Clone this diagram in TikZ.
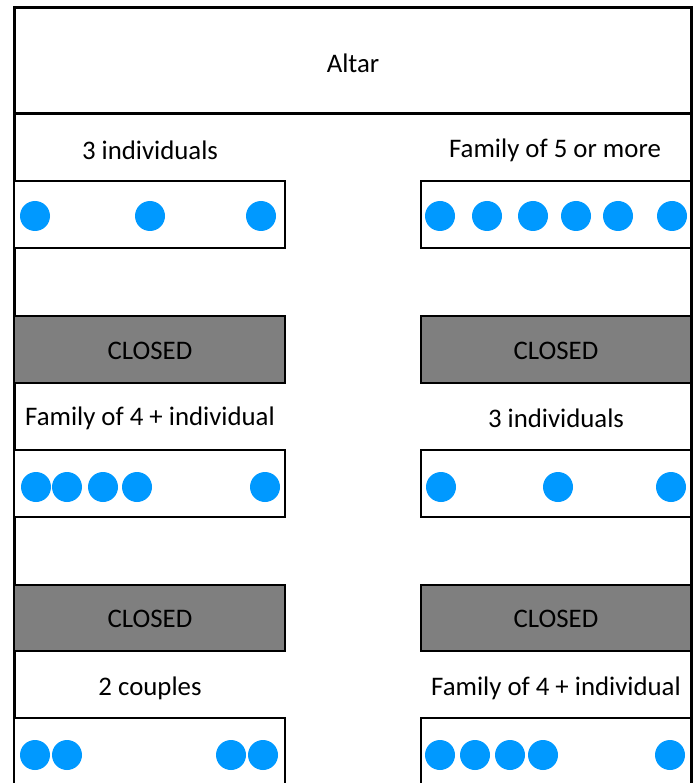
\documentclass[tikz,border=0pt]{standalone}
\usepackage{fontspec}
\setmainfont{Carlito}
\definecolor{dotblue}{HTML}{0099FF}
\definecolor{closedgray}{HTML}{7F7F7F}
\begin{document}
\begin{tikzpicture}[x=1pt,y=-1pt,
  pew/.style={draw=black,line width=2.5pt,fill=white},
  closedbox/.style={draw=black,line width=2.5pt,fill=closedgray},
  person/.style={circle,fill=dotblue,inner sep=0pt,minimum size=30pt},
  lbl/.style={font=\fontsize{26.8}{30}\selectfont,inner sep=0pt}]
\useasboundingbox (0,0) rectangle (696,783);
% frame
\draw[line width=3pt] (14,783) -- (14,8) -- (691,8) -- (691,783);
\draw[line width=3pt] (14,114) -- (691,114);
\node[lbl] (altar) at (353,63) {Altar};
% row 1
\node[lbl] (l1) at (150,150) {3 individuals};
\node[lbl] (r1) at (555,150) {Family of 5 or more};
\draw[pew] (14,181) rectangle (285,248);
\draw[pew] (421,181) rectangle (691,248);
\foreach \x/\n in {35/a,150/b,261/c} \node[person] (p1\n) at (\x,216) {};
\foreach \x/\n in {440/a,487/b,533/c,576/d,618/e,672/f} \node[person] (q1\n) at (\x,216) {};
% closed 1
\draw[closedbox] (14,316) rectangle (285,383);
\draw[closedbox] (421,316) rectangle (691,383);
\node[lbl] (c1l) at (150,351) {CLOSED};
\node[lbl] (c1r) at (556,351) {CLOSED};
% row 2
\node[lbl] (l2) at (150,418) {Family of 4 + individual};
\node[lbl] (r2) at (556,418) {3 individuals};
\draw[pew] (14,450) rectangle (285,517);
\draw[pew] (421,450) rectangle (691,517);
\foreach \x/\n in {36/a,67/b,103/c,137/d,265/e} \node[person] (p2\n) at (\x,487) {};
\foreach \x/\n in {441/a,558/b,671/c} \node[person] (q2\n) at (\x,487) {};
% closed 2
\draw[closedbox] (14,585) rectangle (285,651);
\draw[closedbox] (421,585) rectangle (691,651);
\node[lbl] (c2l) at (150,619) {CLOSED};
\node[lbl] (c2r) at (556,619) {CLOSED};
% row 3
\node[lbl] (l3) at (150,688) {2 couples};
\node[lbl] (r3) at (556,688) {Family of 4 + individual};
\draw[pew] (14,790) -- (14,718) -- (285,718) -- (285,790);
\draw[pew] (421,790) -- (421,718) -- (691,718) -- (691,790);
\foreach \x/\n in {35/a,67/b,231/c,263/d} \node[person] (p3\n) at (\x,755) {};
\foreach \x/\n in {440/a,475/b,510/c,543/d,670/e} \node[person] (q3\n) at (\x,755) {};
\end{tikzpicture}
\end{document}
